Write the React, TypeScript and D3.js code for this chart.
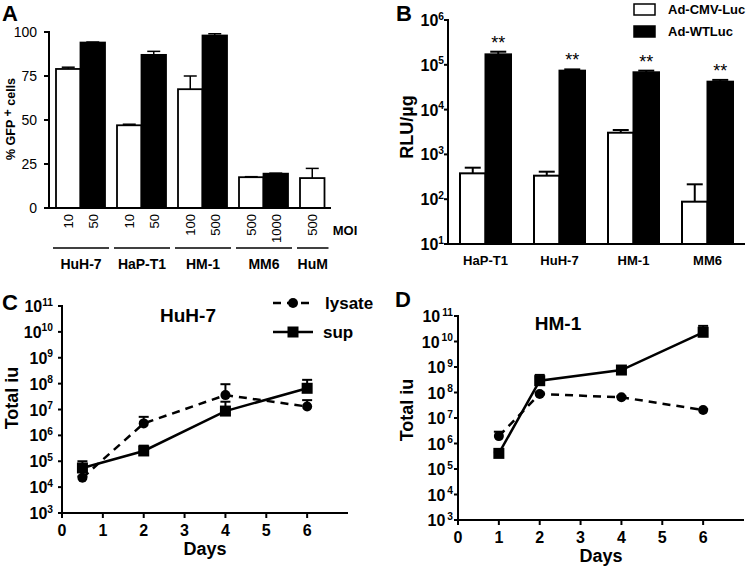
import React from "react";
import * as d3 from "d3";

const FONT = "'Liberation Sans', Arial, Helvetica, sans-serif";

// ---- panel A data
const aGroups = ["HuH-7", "HaP-T1", "HM-1", "MM6", "HuM"];
const aMoi = [["10", "50"], ["10", "50"], ["100", "500"], ["500", "1000"], ["500"]];
const aValues = [[79, 94], [47, 87], [67.5, 98], [17.5, 19.5], [17]];
const aErrors = [[80, 94.3], [47.6, 89], [75, 99], [17.8, 19.8], [22.5]];
const aTicks = [0, 25, 50, 75, 100];

// ---- panel B data
const bGroups = ["HaP-T1", "HuH-7", "HM-1", "MM6"];
const bSeries = ["Ad-CMV-Luc", "Ad-WTLuc"];
const bCmv = [378, 335, 3050, 88];
const bCmvErr = [505, 411, 3500, 215];
const bWt = [171000, 74000, 68000, 42000];
const bWtErr = [196000, 79000, 74000, 46000];
const bExp = [1, 2, 3, 4, 5, 6];

// ---- panel C data (HuH-7)
const cDays = [0.5, 2, 4, 6];
const cLysate = [2.3e4, 2.9e6, 3.6e7, 1.3e7];
const cLysateErr = [2.6e4, 5.2e6, 9.5e7, 2.3e7];
const cSup = [5.5e4, 2.5e5, 8.7e6, 6.6e7];
const cSupErr = [1e5, 4e5, 2e7, 1.4e8];

// ---- panel D data (HM-1)
const dDays = [1, 2, 4, 6];
const dLysate = [1.95e6, 8.7e7, 6.5e7, 2.05e7];
const dLysateErr = [2.9e6, 1e8, 7e7, 2.2e7];
const dSup = [4.1e5, 2.9e8, 7.6e8, 2.3e10];
const dSupErr = [4.5e5, 4.9e8, 8.5e8, 4.1e10];

const dayTicks = [0, 1, 2, 3, 4, 5, 6];
const expTicks = [3, 4, 5, 6, 7, 8, 9, 10, 11];

// 10 with a raised exponent, right aligned at x
const PowLabel = ({ x, y, exp, size = 16, gap = 0 }) => (
  <text x={x} y={y} textAnchor="end" fontSize={size} fontWeight="bold" fontFamily={FONT}>
    <tspan>10</tspan>
    <tspan dx={gap} dy={-size * 0.4} fontSize={size * 0.64}>{exp}</tspan>
  </text>
);

function PanelA() {
  const y = d3.scaleLinear().domain([0, 100]).range([208, 32]);
  const x = d3.scaleBand().domain(aGroups).range([56, 349]).paddingInner(12 / 61);
  const bw = x.bandwidth() / 2;
  return (
    <g fontFamily={FONT}>
      <text x={2} y={21} fontSize={22} fontWeight="bold">A</text>
      {aGroups.map((g, gi) =>
        aValues[gi].map((v, i) => {
          const bx = x(g) + i * bw;
          const cx = bx + bw / 2;
          const ey = y(aErrors[gi][i]);
          return (
            <g key={g + i}>
              <line x1={cx} x2={cx} y1={y(v)} y2={ey} stroke="#000" strokeWidth={1.5} />
              <line x1={cx - 6.5} x2={cx + 6.5} y1={ey} y2={ey} stroke="#000" strokeWidth={1.5} />
              <rect x={bx} y={y(v)} width={bw} height={y(0) - y(v)} fill={i === 0 ? "#fff" : "#000"} stroke="#000" strokeWidth={1.8} />
              <text transform={`translate(${cx + 5},214) rotate(-90)`} textAnchor="end" fontSize={13}>{aMoi[gi][i]}</text>
            </g>
          );
        })
      )}
      <line x1={49} x2={331} y1={208} y2={208} stroke="#000" strokeWidth={2} />
      <line x1={49} x2={49} y1={31} y2={209} stroke="#000" strokeWidth={2} />
      {aTicks.map((t) => (
        <g key={t}>
          <line x1={44} x2={49} y1={y(t)} y2={y(t)} stroke="#000" strokeWidth={2} />
          <text x={37} y={y(t) + 5} textAnchor="end" fontSize={14}>{t}</text>
        </g>
      ))}
      <text x={345} y={235} textAnchor="middle" fontSize={13} fontWeight="bold">MOI</text>
      {aGroups.map((g, gi) => {
        const x0 = x(g) - 3;
        const x1 = x(g) + aValues[gi].length * bw + 4;
        return (
          <g key={g}>
            <line x1={x0} x2={x1} y1={248} y2={248} stroke="#000" strokeWidth={1.5} />
            <text x={(x0 + x1) / 2} y={269} textAnchor="middle" fontSize={14} fontWeight="bold">{g}</text>
          </g>
        );
      })}
      <text transform="translate(15,119) rotate(-90)" textAnchor="middle" fontSize={12.5} fontWeight="bold">
        % GFP <tspan dy={-3}>+</tspan><tspan dy={3}> cells</tspan>
      </text>
    </g>
  );
}

function PanelB() {
  const y = d3.scaleLog().domain([10, 1e6]).range([244, 20]);
  const x = d3.scaleBand().domain(bGroups).range([460, 733]).paddingInner(23 / 74);
  const bw = x.bandwidth() / 2;
  const series = [
    { v: bCmv, e: bCmvErr, fill: "#fff" },
    { v: bWt, e: bWtErr, fill: "#000" },
  ];
  return (
    <g fontFamily={FONT}>
      <text x={396} y={21} fontSize={22} fontWeight="bold">B</text>
      {bGroups.map((g, gi) =>
        series.map((s, i) => {
          const bx = x(g) + i * bw;
          const cx = bx + bw / 2;
          const ey = y(s.e[gi]);
          return (
            <g key={g + i}>
              <line x1={cx} x2={cx} y1={y(s.v[gi])} y2={ey} stroke="#000" strokeWidth={2} />
              <line x1={cx - 8} x2={cx + 8} y1={ey} y2={ey} stroke="#000" strokeWidth={2} />
              <rect x={bx} y={y(s.v[gi])} width={bw} height={y(10) - y(s.v[gi])} fill={s.fill} stroke="#000" strokeWidth={2} />
            </g>
          );
        })
      )}
      {bGroups.map((g, gi) => (
        <text key={g + "s"} x={x(g) + bw * 1.5} y={y(bWtErr[gi]) - 3} textAnchor="middle" fontSize={18}>**</text>
      ))}
      <line x1={448} x2={745} y1={244} y2={244} stroke="#000" strokeWidth={2} />
      <line x1={448} x2={448} y1={19} y2={245} stroke="#000" strokeWidth={2} />
      {bExp.map((e) => (
        <g key={e}>
          <line x1={444} x2={448} y1={y(10 ** e)} y2={y(10 ** e)} stroke="#000" strokeWidth={2} />
          <PowLabel x={444} y={y(10 ** e) + 6} exp={e} size={16} />
        </g>
      ))}
      {bGroups.map((g) => (
        <text key={g} x={x(g) + bw} y={265} textAnchor="middle" fontSize={13} fontWeight="bold">{g}</text>
      ))}
      <text transform="translate(413,127) rotate(-90)" textAnchor="middle" fontSize={18} fontWeight="bold">RLU/µg</text>
      {bSeries.map((s, i) => (
        <g key={s}>
          <rect x={634} y={4 + i * 22} width={21} height={11} fill={i === 0 ? "#fff" : "#000"} stroke="#000" strokeWidth={1.5} />
          <text x={668} y={14 + i * 22} fontSize={13} fontWeight="bold">{s}</text>
        </g>
      ))}
    </g>
  );
}

function TimePanel({ letter, lx, ly, title, tx, ty, x0, y11, y3, days, lys, lysE, sup, supE, labelX, ylabX, ylabY, gap, legend }) {
  const x = d3.scaleLinear().domain([0, 7]).range([x0, x0 + 286]);
  const y = d3.scaleLog().domain([1e3, 1e11]).range([y3, y11]);
  const line = d3.line<number>().x((_, i) => x(days[i])).y((v) => y(v));
  const yBase = y3;
  return (
    <g fontFamily={FONT}>
      <text x={lx} y={ly} fontSize={22} fontWeight="bold">{letter}</text>
      <text x={tx} y={ty} textAnchor="middle" fontSize={19} fontWeight="bold">{title}</text>
      <path d={line(lys)} fill="none" stroke="#000" strokeWidth={2.5} strokeDasharray="8,6" />
      <path d={line(sup)} fill="none" stroke="#000" strokeWidth={2.5} />
      {[{ v: lys, e: lysE }, { v: sup, e: supE }].map((s, si) =>
        s.v.map((v, i) => (
          <g key={si + "e" + i}>
            <line x1={x(days[i])} x2={x(days[i])} y1={y(v)} y2={y(s.e[i])} stroke="#000" strokeWidth={2} />
            <line x1={x(days[i]) - 5} x2={x(days[i]) + 5} y1={y(s.e[i])} y2={y(s.e[i])} stroke="#000" strokeWidth={2} />
          </g>
        ))
      )}
      {lys.map((v, i) => (
        <circle key={"c" + i} cx={x(days[i])} cy={y(v)} r={5} fill="#000" />
      ))}
      {sup.map((v, i) => (
        <rect key={"r" + i} x={x(days[i]) - 5.5} y={y(v) - 5.5} width={11} height={11} fill="#000" />
      ))}
      <line x1={x0} x2={x0 + 286} y1={yBase} y2={yBase} stroke="#000" strokeWidth={2} />
      <line x1={x0} x2={x0} y1={y11 - 1} y2={yBase + 5} stroke="#000" strokeWidth={2} />
      {dayTicks.map((d) => (
        <g key={d}>
          <line x1={x(d)} x2={x(d)} y1={yBase} y2={yBase + 5} stroke="#000" strokeWidth={2} />
          <text x={x(d)} y={yBase + 23} textAnchor="middle" fontSize={16} fontWeight="bold">{d}</text>
        </g>
      ))}
      {expTicks.map((e) => (
        <g key={e}>
          <line x1={x0 - 4} x2={x0} y1={y(10 ** e)} y2={y(10 ** e)} stroke="#000" strokeWidth={2} />
          <PowLabel x={labelX} y={y(10 ** e) + 6} exp={e} size={16} gap={gap} />
        </g>
      ))}
      <text x={x(3.5)} y={yBase + 42} textAnchor="middle" fontSize={18} fontWeight="bold">Days</text>
      <text transform={`translate(${ylabX},${ylabY}) rotate(-90)`} textAnchor="middle" fontSize={18} fontWeight="bold">Total iu</text>
      {legend && (
        <g>
          <line x1={272} x2={314} y1={303} y2={303} stroke="#000" strokeWidth={2.5} strokeDasharray="8,6" strokeDashoffset={-1} />
          <circle cx={293} cy={303} r={5} fill="#000" />
          <text x={325} y={309} fontSize={17} fontWeight="bold">lysate</text>
          <line x1={273} x2={313} y1={332} y2={332} stroke="#000" strokeWidth={2.5} />
          <rect x={287.5} y={326.5} width={11} height={11} fill="#000" />
          <text x={323} y={338} fontSize={17} fontWeight="bold">sup</text>
        </g>
      )}
    </g>
  );
}

export default function App() {
  return (
    <svg width={750} height={571} style={{ position: "absolute", left: 0, top: 0, background: "#fff" }}>
      <rect width={750} height={571} fill="#fff" />
      <PanelA />
      <PanelB />
      <TimePanel letter="C" lx={2} ly={310} title="HuH-7" tx={188} ty={322} x0={62} y11={306} y3={513}
        days={cDays} lys={cLysate} lysE={cLysateErr} sup={cSup} supE={cSupErr}
        labelX={53} ylabX={18} ylabY={398} gap={0} legend />
      <TimePanel letter="D" lx={395} ly={307} title="HM-1" tx={558} ty={330} x0={458} y11={316} y3={520}
        days={dDays} lys={dLysate} lysE={dLysateErr} sup={dSup} supE={dSupErr}
        labelX={453} ylabX={413} ylabY={410} gap={2} legend={false} />
    </svg>
  );
}
